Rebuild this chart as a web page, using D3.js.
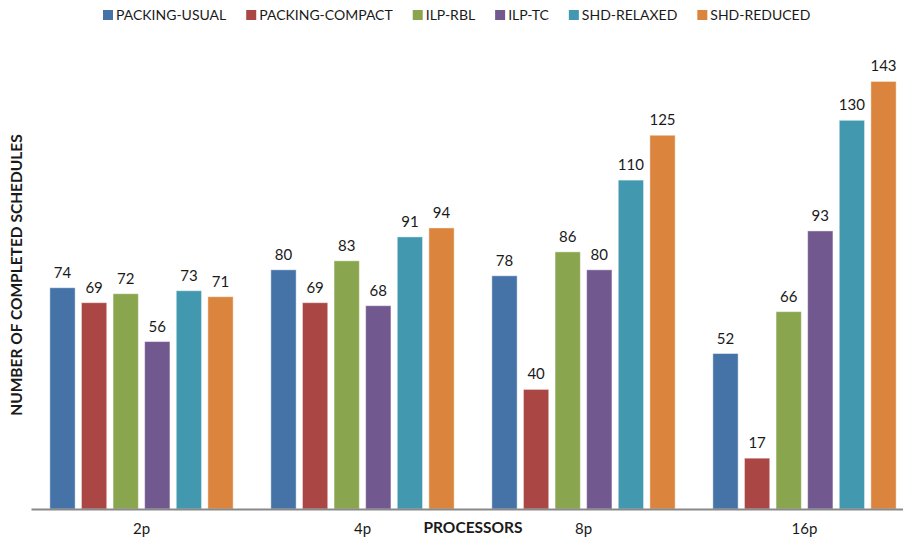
<!DOCTYPE html>
<html>
<head>
<meta charset="utf-8">
<script src="https://cdn.jsdelivr.net/npm/d3@7"></script>
<style>
  html, body { margin: 0; padding: 0; background: #fff; }
  svg { display: block; font-family: Lato, "Open Sans", sans-serif; }
</style>
</head>
<body>
<svg id="chart" width="903" height="542"></svg>
<script>
// Completed schedules per strategy, grouped by processor count
const categories = ["2p", "4p", "8p", "16p"];
const seriesNames = ["PACKING-USUAL", "PACKING-COMPACT", "ILP-RBL", "ILP-TC", "SHD-RELAXED", "SHD-REDUCED"];
const packingUsual   = [74, 80, 78, 52];
const packingCompact = [69, 69, 40, 17];
const ilpRbl         = [72, 83, 86, 66];
const ilpTc          = [56, 68, 80, 93];
const shdRelaxed     = [73, 91, 110, 130];
const shdReduced     = [71, 94, 125, 143];
const seriesValues = [packingUsual, packingCompact, ilpRbl, ilpTc, shdRelaxed, shdReduced];
const colors = ["#4572A7", "#AA4643", "#89A54E", "#71588F", "#4198AF", "#DB843D"];
const yTitle = "NUMBER OF COMPLETED SCHEDULES";
const xTitle = "PROCESSORS";

const svg = d3.select("#chart");
const baseY = 509;

const x0 = d3.scaleBand()
  .domain(categories)
  .range([31, 915])
  .paddingInner(0.142)
  .paddingOuter(0.071);

const x1 = d3.scaleBand()
  .domain(seriesNames)
  .range([0, x0.bandwidth()])
  .paddingInner(0.2)
  .paddingOuter(0.1);

const y = d3.scaleLinear()
  .domain([0, 160])
  .range([baseY, baseY - 478.4]);

// bars
const groups = svg.append("g")
  .selectAll("g")
  .data(categories)
  .join("g")
  .attr("transform", d => `translate(${x0(d)},0)`);

groups.selectAll("rect")
  .data((c, ci) => seriesNames.map((s, si) => ({ s, si, v: seriesValues[si][ci] })))
  .join("rect")
  .attr("x", d => x1(d.s))
  .attr("width", x1.bandwidth())
  .attr("y", d => y(d.v))
  .attr("height", d => baseY - y(d.v))
  .attr("fill", d => colors[d.si])
  .attr("stroke", "rgba(255,255,255,0.45)")
  .attr("stroke-width", 1);

groups.selectAll("text.val")
  .data((c, ci) => seriesNames.map((s, si) => ({ s, si, v: seriesValues[si][ci] })))
  .join("text")
  .attr("class", "val")
  .attr("x", d => x1(d.s) + x1.bandwidth() / 2)
  .attr("y", d => y(d.v) - 10)
  .attr("text-anchor", "middle")
  .attr("font-size", 15)
  .attr("fill", "#1a1a1a")
  .text(d => d.v);

// category axis
const xAxis = d3.axisBottom(x0).tickSize(0).tickPadding(14);
const axG = svg.append("g")
  .attr("transform", `translate(0,${baseY})`)
  .call(xAxis);
axG.select(".domain").attr("stroke", "#898989").attr("stroke-width", 2.2);
axG.selectAll("text").attr("font-size", 15).attr("fill", "#1a1a1a")
  .attr("font-family", "Lato, 'Open Sans', sans-serif");

// axis titles
svg.append("text")
  .attr("x", 473)
  .attr("y", 533)
  .attr("text-anchor", "middle")
  .attr("font-size", 15.5)
  .attr("font-weight", "bold")
  .attr("fill", "#1a1a1a")
  .text(xTitle);

svg.append("text")
  .attr("transform", "translate(22,275) rotate(-90)")
  .attr("text-anchor", "middle")
  .attr("font-size", 15.5)
  .attr("font-weight", "bold")
  .attr("fill", "#1a1a1a")
  .text(yTitle);

// legend
const legend = svg.append("g").attr("transform", "translate(103,15)");
let lx = 0;
seriesNames.forEach((name, i) => {
  const item = legend.append("g").attr("transform", `translate(${lx},0)`);
  item.append("rect")
    .attr("x", 0).attr("y", -5)
    .attr("width", 10).attr("height", 10)
    .attr("fill", colors[i]);
  const t = item.append("text")
    .attr("x", 13)
    .attr("y", 5)
    .attr("font-size", 14)
    .attr("fill", "#1a1a1a")
    .text(name);
  lx += 13 + t.node().getComputedTextLength() + 20;
});
</script>
</body>
</html>
